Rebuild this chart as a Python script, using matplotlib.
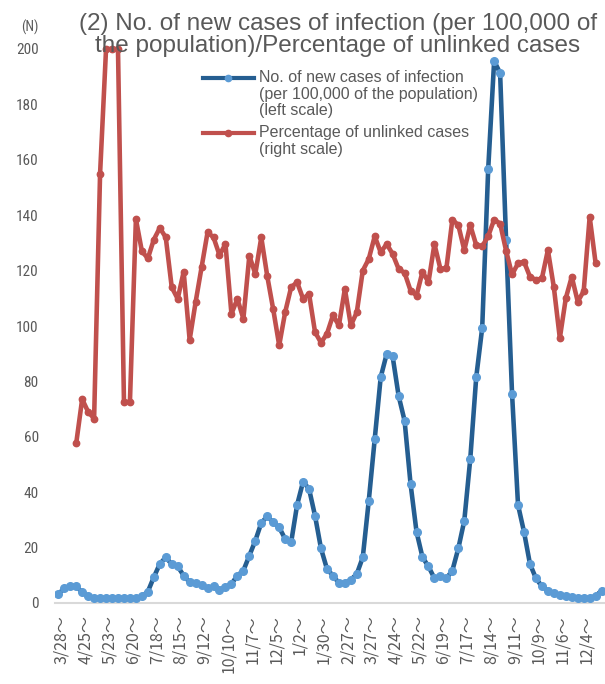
import numpy as np
import matplotlib.pyplot as plt
import matplotlib.transforms as mtransforms
from matplotlib.lines import Line2D
from matplotlib import font_manager

# weekly values, first week = 3/28 (2020)
tick_labels = ["3/28", "4/25", "5/23", "6/20", "7/18", "8/15", "9/12", "10/10",
               "11/7", "12/5", "1/2", "1/30", "2/27", "3/27", "4/24", "5/22",
               "6/19", "7/17", "8/14", "9/11", "10/9", "11/6", "12/4"]

# no. of new cases of infection per 100,000 (left scale)
new_cases = [3.2, 5.3, 6.0, 6.0, 3.9, 2.6, 1.7, 1.7, 1.7, 1.7,
             1.7, 1.7, 1.7, 1.7, 2.4, 4.1, 9.3, 14.1, 16.5, 14.0,
             13.2, 9.9, 7.5, 7.3, 6.5, 5.3, 6.0, 4.8, 5.7, 6.9,
             9.9, 11.7, 17.1, 22.5, 28.9, 31.3, 29.1, 27.3, 23.1, 21.9,
             35.4, 43.8, 41.2, 31.5, 19.7, 12.3, 9.9, 7.2, 7.2, 8.4,
             10.5, 16.5, 36.9, 59.2, 81.5, 89.9, 89.0, 74.8, 65.8, 43.0,
             25.7, 16.5, 13.2, 8.9, 9.9, 8.9, 11.7, 19.7, 29.7, 52.0,
             81.5, 99.3, 156.5, 195.7, 191.3, 131.0, 75.5, 35.4, 25.7, 14.1,
             8.9, 6.0, 4.5, 3.5, 3.0, 2.4, 2.0, 1.8, 1.8, 1.8,
             2.5, 4.5]

# percentage of unlinked cases (right scale, %)
unlinked_pct = [np.nan, np.nan, np.nan, 28.8, 36.8, 34.5, 33.3, 77.5, 100, 100,
                100, 36.3, 36.3, 69.3, 63.5, 62.2, 65.6, 67.7, 66.0, 57.0,
                54.9, 59.8, 47.5, 54.3, 60.6, 66.9, 66.0, 62.8, 64.8, 52.2,
                54.9, 51.3, 62.7, 59.4, 66.0, 59.0, 53.0, 46.5, 52.5, 57.0,
                57.9, 54.9, 55.8, 48.9, 47.0, 48.6, 51.9, 50.1, 56.7, 50.1,
                52.5, 60.0, 62.1, 66.2, 63.3, 64.8, 63.0, 60.3, 59.6, 56.4,
                55.5, 59.8, 57.9, 64.8, 60.3, 60.4, 69.2, 68.2, 63.7, 68.2,
                64.6, 64.4, 66.2, 69.2, 68.5, 63.6, 59.3, 61.3, 61.6, 58.9,
                58.3, 58.6, 63.7, 57.0, 47.8, 55.0, 58.9, 54.4, 56.3, 69.7,
                61.3, np.nan]

GREY = "#595959"
BLUE_LINE = "#255E91"
BLUE_DOT = "#5B9BD5"
RED = "#C0504D"


def pick_font(names, fallback="Liberation Sans"):
    have = {f.name for f in font_manager.fontManager.ttflist}
    for n in names:
        if n in have:
            return n
    return fallback


narrow = pick_font(["Liberation Sans Narrow", "Roboto Condensed", "Open Sans Condensed"])
plt.rcParams["font.family"] = ["Liberation Sans", "DejaVu Sans"]

W, H = 605, 684
fig = plt.figure(figsize=(W / 100, H / 100), dpi=100)
x = np.arange(len(new_cases))

left, right = 55.3, 604.6
y0, y200 = 603, 49
ax = fig.add_axes([left / W, (H - y0) / H, (right - left) / W, (y0 - y200) / H])

ax.plot(x, new_cases, color=BLUE_LINE, lw=3.3, marker="o", ms=5.5,
        mfc=BLUE_DOT, mec=BLUE_DOT, solid_joinstyle="round", zorder=3)
ax.set_xlim(-0.5, len(new_cases) - 0.5)
ax.set_ylim(0, 200)
ax.set_yticks(range(0, 201, 20))
ax.set_yticklabels([str(v) for v in range(0, 201, 20)], fontfamily=narrow,
                   fontsize=11, color=GREY)
ax.tick_params(axis="y", length=0, pad=12)

ticks = list(range(0, len(new_cases), 4))[:len(tick_labels)]
ax.set_xticks(ticks)
ax.set_xticklabels([t + "～" for t in tick_labels], rotation=90,
                   fontfamily=["Noto Sans CJK JP", "DejaVu Sans"], fontsize=11.5,
                   color=GREY)
ax.tick_params(axis="x", length=0, pad=9)
shift = mtransforms.ScaledTranslation(3 / 100, 0, fig.dpi_scale_trans)
for lab in ax.get_xticklabels():
    lab.set_transform(lab.get_transform() + shift)

for s in ["top", "left", "right"]:
    ax.spines[s].set_visible(False)
ax.spines["bottom"].set_color("#D9D9D9")
ax.spines["bottom"].set_linewidth(1.5)

ax2 = ax.twinx()
ax2.plot(x, unlinked_pct, color=RED, lw=3.3, marker="o", ms=4.6,
         mfc=RED, mec=RED, solid_joinstyle="round", clip_on=False)
ax2.set_ylim(0, 100)
ax2.set_yticks([])
for s in ax2.spines.values():
    s.set_visible(False)

fig.text(30 / W, 1 - 27 / H, "(N)", fontsize=10, color=GREY, fontfamily=narrow,
         ha="center", va="center")

fig.text(338 / W, 1 - 13 / H,
         "(2) No. of new cases of infection (per 100,000 of\n"
         "the population)/Percentage of unlinked cases",
         fontsize=17.5, color=GREY, ha="center", va="top", linespacing=1.0)

# legend, handle next to first text line like the original
def legend_entry(yline, color, dot, lines):
    fig.add_artist(Line2D([203 / W, 254 / W], [1 - yline / H] * 2, color=color,
                          lw=3, transform=fig.transFigure))
    fig.add_artist(Line2D([228.5 / W], [1 - yline / H], marker="o", ms=4.5,
                          color=dot, transform=fig.transFigure))
    for i, t in enumerate(lines):
        fig.text(259 / W, 1 - (yline + i * 16.5) / H, t, fontsize=11.5,
                 color=GREY, ha="left", va="center")


legend_entry(78, BLUE_LINE, BLUE_DOT,
             ["No. of new cases of infection",
              "(per 100,000 of the population)",
              "(left scale)"])
legend_entry(133, RED, RED,
             ["Percentage of unlinked cases", "(right scale)"])

fig.savefig("out.png", dpi=100)
